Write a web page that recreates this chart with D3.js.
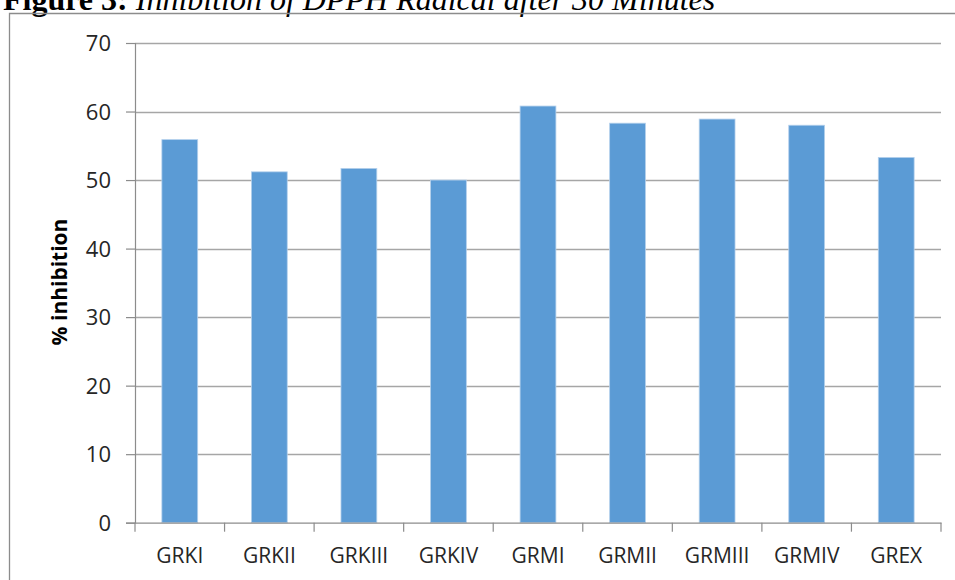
<!DOCTYPE html>
<html>
<head>
<meta charset="utf-8">
<script src="https://cdn.jsdelivr.net/npm/d3@7"></script>
<style>
  body { margin: 0; background: #fff; }
  svg { display: block; }
</style>
</head>
<body>
<svg id="chart" width="955" height="580"></svg>
<script>
// data
const categories = ["GRKI", "GRKII", "GRKIII", "GRKIV", "GRMI", "GRMII", "GRMIII", "GRMIV", "GREX"];
const inhibition = [55.9, 51.2, 51.7, 50.0, 60.8, 58.3, 58.9, 58.0, 53.3];
const yTicks = [0, 10, 20, 30, 40, 50, 60, 70];

const svg = d3.select("#chart");
const margin = { left: 135, right: 14, top: 43, bottom: 57 };
const W = 955, H = 580;
const font = "'Open Sans', 'Liberation Sans', sans-serif";

// caption, cut off at the top like the scanned page
const cap = svg.append("text")
    .attr("x", 3)
    .attr("y", 10)
    .style("font-family", "'Liberation Serif', 'Times New Roman', serif")
    .style("font-size", "32px")
    .style("fill", "#000");
cap.append("tspan").style("font-weight", "bold").text("Figure 3: ");
cap.append("tspan").style("font-style", "italic").text("Inhibition of DPPH Radical after 30 Minutes");

// chart frame
svg.append("path")
    .attr("d", `M9.5,${H} V13.5 H${W}`)
    .attr("fill", "none")
    .attr("stroke", "#8c8c8c")
    .attr("stroke-width", 1.3);

const x = d3.scaleBand()
    .domain(categories)
    .range([margin.left, W - margin.right])
    .paddingInner(0.6)
    .paddingOuter(0.3);

const y = d3.scaleLinear()
    .domain([0, 70])
    .range([H - margin.bottom - 0.3, margin.top]);

// gridlines
svg.append("g")
    .selectAll("line")
    .data(yTicks.slice(1))
    .enter()
    .append("line")
    .attr("x1", margin.left)
    .attr("x2", W - margin.right)
    .attr("y1", d => Math.round(y(d)) + 0.5)
    .attr("y2", d => Math.round(y(d)) + 0.5)
    .attr("stroke", "#a6a6a6")
    .attr("stroke-width", 1.3);

// bars
svg.append("g")
    .selectAll("rect")
    .data(inhibition)
    .enter()
    .append("rect")
    .attr("x", (d, i) => x(categories[i]))
    .attr("y", d => y(d))
    .attr("width", x.bandwidth())
    .attr("height", d => y(0) - y(d))
    .attr("fill", "#5b9bd5")
    .attr("stroke", "#b4d0ec")
    .attr("stroke-width", 0.8);

// y axis
const yAxis = svg.append("g")
    .attr("transform", `translate(${margin.left},0)`)
    .call(d3.axisLeft(y).tickValues(yTicks).tickSize(9).tickPadding(15).tickFormat(d3.format("d")));
yAxis.select(".domain").attr("stroke", "#8c8c8c").attr("stroke-width", 1.2);
yAxis.selectAll(".tick line").attr("stroke", "#8c8c8c").attr("stroke-width", 1.2);
yAxis.selectAll(".tick text")
    .attr("dy", "0.35em")
    .style("font-family", font)
    .style("font-size", "22px")
    .style("fill", "#262626");

// x axis
const xAxis = svg.append("g")
    .attr("transform", `translate(0,${y(0)})`)
    .call(d3.axisBottom(x).tickSize(0).tickPadding(25));
xAxis.select(".domain").attr("stroke", "#8c8c8c").attr("stroke-width", 1.2);
xAxis.selectAll(".tick text")
    .style("font-family", font)
    .style("font-size", "21px")
    .style("fill", "#262626");

// category separators
const step = x.step();
svg.append("g")
    .selectAll("line")
    .data(d3.range(categories.length + 1))
    .enter()
    .append("line")
    .attr("x1", i => margin.left + i * step)
    .attr("x2", i => margin.left + i * step)
    .attr("y1", y(0))
    .attr("y2", y(0) + 9)
    .attr("stroke", "#8c8c8c")
    .attr("stroke-width", 1.2);

// y label
svg.append("text")
    .attr("transform", `translate(67,282) rotate(-90)`)
    .attr("text-anchor", "middle")
    .style("font-family", font)
    .style("font-size", "21px")
    .style("font-weight", "bold")
    .style("fill", "#000")
    .text("% inhibition");
</script>
</body>
</html>
